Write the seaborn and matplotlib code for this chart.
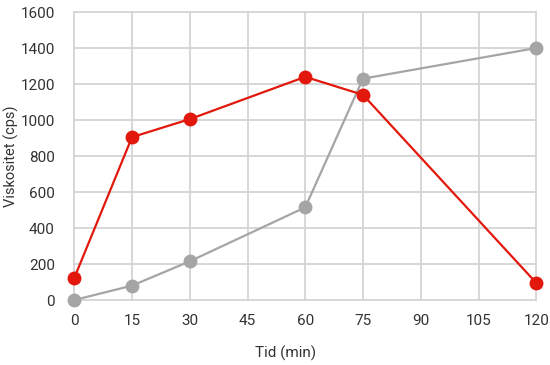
import numpy as np
import pandas as pd
import matplotlib
matplotlib.use("Agg")
import matplotlib.pyplot as plt
import seaborn as sns
from matplotlib import font_manager

# time points (min) and viscosity readings (cps)
tid = [0, 15, 30, 60, 75, 120]
red_vals = [122, 905, 1005, 1240, 1140, 95]
grey_vals = [0, 80, 215, 515, 1230, 1400]
x_ticks = [0, 15, 30, 45, 60, 75, 90, 105, 120]
y_ticks = [0, 200, 400, 600, 800, 1000, 1200, 1400, 1600]

installed = {f.name for f in font_manager.fontManager.ttflist}
family = "Liberation Sans Narrow" if "Liberation Sans Narrow" in installed else "Roboto"

sns.set_theme(style="white")
plt.rcParams["font.family"] = [family, "DejaVu Sans"]

df = pd.DataFrame({
    "tid": tid * 2,
    "visk": red_vals + grey_vals,
    "serie": ["A"] * len(tid) + ["B"] * len(tid),
})

fig, ax = plt.subplots(figsize=(5.5, 3.65), dpi=100)
fig.patch.set_facecolor("white")

grid_col = "#d4d4d4"
for xv in x_ticks:
    ax.axvline(xv, color=grid_col, lw=1.3, zorder=0)
for yv in y_ticks:
    ax.axhline(yv, color=grid_col, lw=1.3, zorder=0)

sns.lineplot(data=df, x="tid", y="visk", hue="serie", hue_order=["B", "A"],
             palette={"A": "#e2180c", "B": "#a5a5a5"},
             marker="o", markersize=10, markeredgewidth=0, linewidth=1.6,
             legend=False, ax=ax)

ax.set_xlim(0, 120)
ax.set_ylim(0, 1600)
ax.set_xticks(x_ticks)
ax.set_yticks(y_ticks)
for s in ax.spines.values():
    s.set_visible(False)
ax.tick_params(axis="both", length=0, labelsize=11, colors="#333333")
ax.tick_params(axis="x", pad=10)
ax.tick_params(axis="y", pad=14)
ax.set_xlabel("Tid (min)", fontsize=11, color="#333333", ha="center", va="center")
ax.set_ylabel("Viskositet (cps)", fontsize=10.5, color="#333333", ha="center", va="center")
ax.xaxis.set_label_coords(0.457, -0.184)
ax.yaxis.set_label_coords(-0.137, 0.5)

for line in ax.lines:
    line.set_clip_on(False)

fig.subplots_adjust(left=0.135, right=0.975, bottom=0.178, top=0.967)
fig.savefig("out.png", dpi=100, facecolor="white")
